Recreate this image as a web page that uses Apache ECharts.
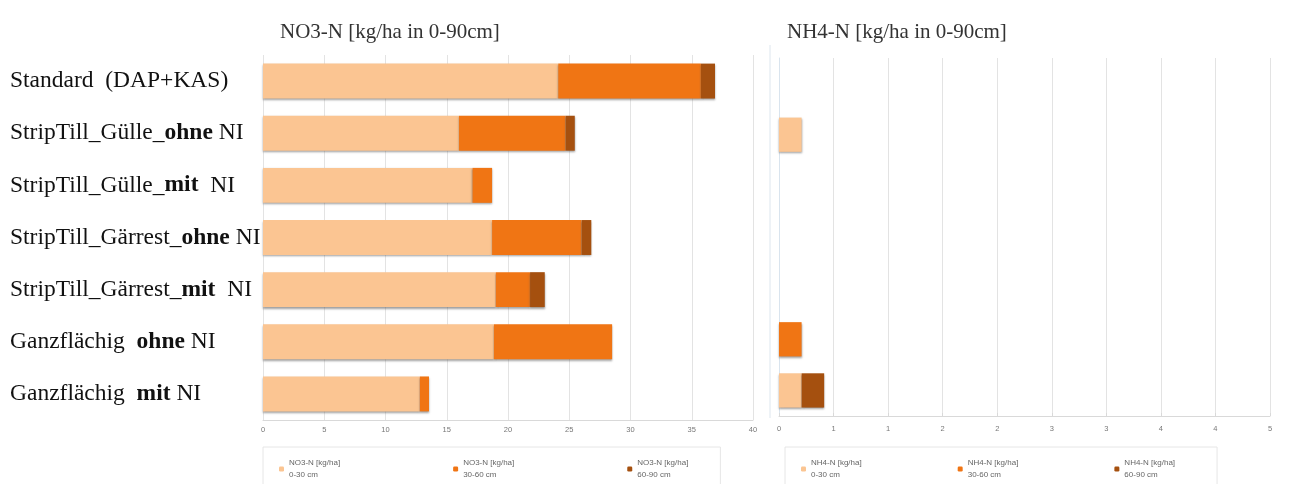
<!DOCTYPE html>
<html>
<head>
<meta charset="utf-8">
<script src="https://cdn.jsdelivr.net/npm/echarts@6/dist/echarts.min.js"></script>
<style>
html,body{margin:0;padding:0;background:#fff;}
#c{width:1294px;height:484px;}
</style>
</head>
<body>
<div id="c"></div>
<script>
var categories = ['Standard  (DAP+KAS)', 'StripTill_Gülle_ohne NI', 'StripTill_Gülle_mit  NI', 'StripTill_Gärrest_ohne NI', 'StripTill_Gärrest_mit  NI', 'Ganzflächig  ohne NI', 'Ganzflächig  mit NI'];
var no3_0_30  = [24.1, 16.0, 17.1, 18.7, 19.0, 18.85, 12.8];
var no3_30_60 = [11.65, 8.7, 1.6, 7.3, 2.8, 9.65, 0.75];
var no3_60_90 = [1.15, 0.75, 0, 0.8, 1.2, 0, 0];
var nh4_0_30  = [0, 0.23, 0, 0, 0, 0, 0.23];
var nh4_30_60 = [0, 0, 0, 0, 0, 0.23, 0];
var nh4_60_90 = [0, 0, 0, 0, 0, 0, 0.23];
var no3Names = ['NO3-N [kg/ha]\n0-30 cm', 'NO3-N [kg/ha]\n30-60 cm', 'NO3-N [kg/ha]\n60-90 cm'];
var nh4Names = ['NH4-N [kg/ha]\n0-30 cm', 'NH4-N [kg/ha]\n30-60 cm', 'NH4-N [kg/ha]\n60-90 cm'];
var titles = ['NO3-N [kg/ha in 0-90cm]', 'NH4-N [kg/ha in 0-90cm]'];

var colors = ['#FBC592', '#F07514', '#A5500F'];
var serif = 'Liberation Serif';

function mk(name, data, i, axis) {
  return {
    name: name, type: 'bar', stack: 's' + axis, data: data,
    xAxisIndex: axis, yAxisIndex: axis,
    barWidth: '67%',
    itemStyle: { color: colors[i], shadowColor: 'rgba(80,80,80,0.55)', shadowBlur: 2, shadowOffsetY: 1.5 },
    emphasis: { disabled: true }
  };
}

var chart = echarts.init(document.getElementById('c'));
chart.setOption({
  animation: false,
  color: colors,
  title: [
    { text: titles[0], left: 275, top: 17, textStyle: { fontFamily: serif, fontSize: 21, fontWeight: 'normal', color: '#333' } },
    { text: titles[1], left: 782, top: 17, textStyle: { fontFamily: serif, fontSize: 21, fontWeight: 'normal', color: '#333' } }
  ],
  grid: [
    { left: 263, width: 490, top: 55, height: 365 },
    { left: 779, width: 491, top: 58, height: 358 }
  ],
  xAxis: [
    { type: 'value', gridIndex: 0, min: 0, max: 40, interval: 5,
      axisLine: { show: true, lineStyle: { color: '#d9d9d9' } },
      axisTick: { show: false },
      splitLine: { lineStyle: { color: '#e3e3e3' } },
      axisLabel: { fontSize: 7.5, color: '#777', margin: 6 } },
    { type: 'value', gridIndex: 1, min: 0, max: 5, interval: 5 / 9,
      axisLine: { show: true, lineStyle: { color: '#d9d9d9' } },
      axisTick: { show: true, inside: true, length: 3, lineStyle: { color: '#d9d9d9' } },
      splitLine: { lineStyle: { color: '#e3e3e3' } },
      axisLabel: { fontSize: 7.5, color: '#777', margin: 9, formatter: function (v) { return String(Math.round(v)); } } }
  ],
  yAxis: [
    { type: 'category', gridIndex: 0, data: categories, inverse: true,
      axisLine: { show: false }, axisTick: { show: false },
      axisLabel: { align: 'left', margin: 253, fontFamily: serif, fontSize: 23.5, color: '#111',
        formatter: function (v) { return v.replace(/(ohne|mit)/, '{b|$1}'); },
        rich: { b: { fontFamily: serif, fontSize: 23.5, fontWeight: 'bold', color: '#111' } } } },
    { type: 'category', gridIndex: 1, data: categories, inverse: true,
      axisLine: { show: true, lineStyle: { color: '#d9e4ee' } }, axisTick: { show: false },
      axisLabel: { show: false } }
  ],
  legend: [
    { data: no3Names, left: 263, top: 447, itemGap: 113, itemWidth: 5, itemHeight: 5,
      borderColor: '#e6e6e6', borderWidth: 1, padding: [10, 32, 6, 16],
      textStyle: { fontSize: 8, color: '#666', lineHeight: 12 }, selectedMode: false },
    { data: nh4Names, left: 785, top: 447, itemGap: 96, itemWidth: 5, itemHeight: 5,
      borderColor: '#e6e6e6', borderWidth: 1, padding: [10, 42, 6, 16],
      textStyle: { fontSize: 8, color: '#666', lineHeight: 12 }, selectedMode: false }
  ],
  graphic: [
    { type: 'line', shape: { x1: 770, y1: 45, x2: 770, y2: 418 }, style: { stroke: '#dde6ee', lineWidth: 1 } }
  ],
  series: [
    mk(no3Names[0], no3_0_30, 0, 0),
    mk(no3Names[1], no3_30_60, 1, 0),
    mk(no3Names[2], no3_60_90, 2, 0),
    mk(nh4Names[0], nh4_0_30, 0, 1),
    mk(nh4Names[1], nh4_30_60, 1, 1),
    mk(nh4Names[2], nh4_60_90, 2, 1)
  ]
});
</script>
</body>
</html>
